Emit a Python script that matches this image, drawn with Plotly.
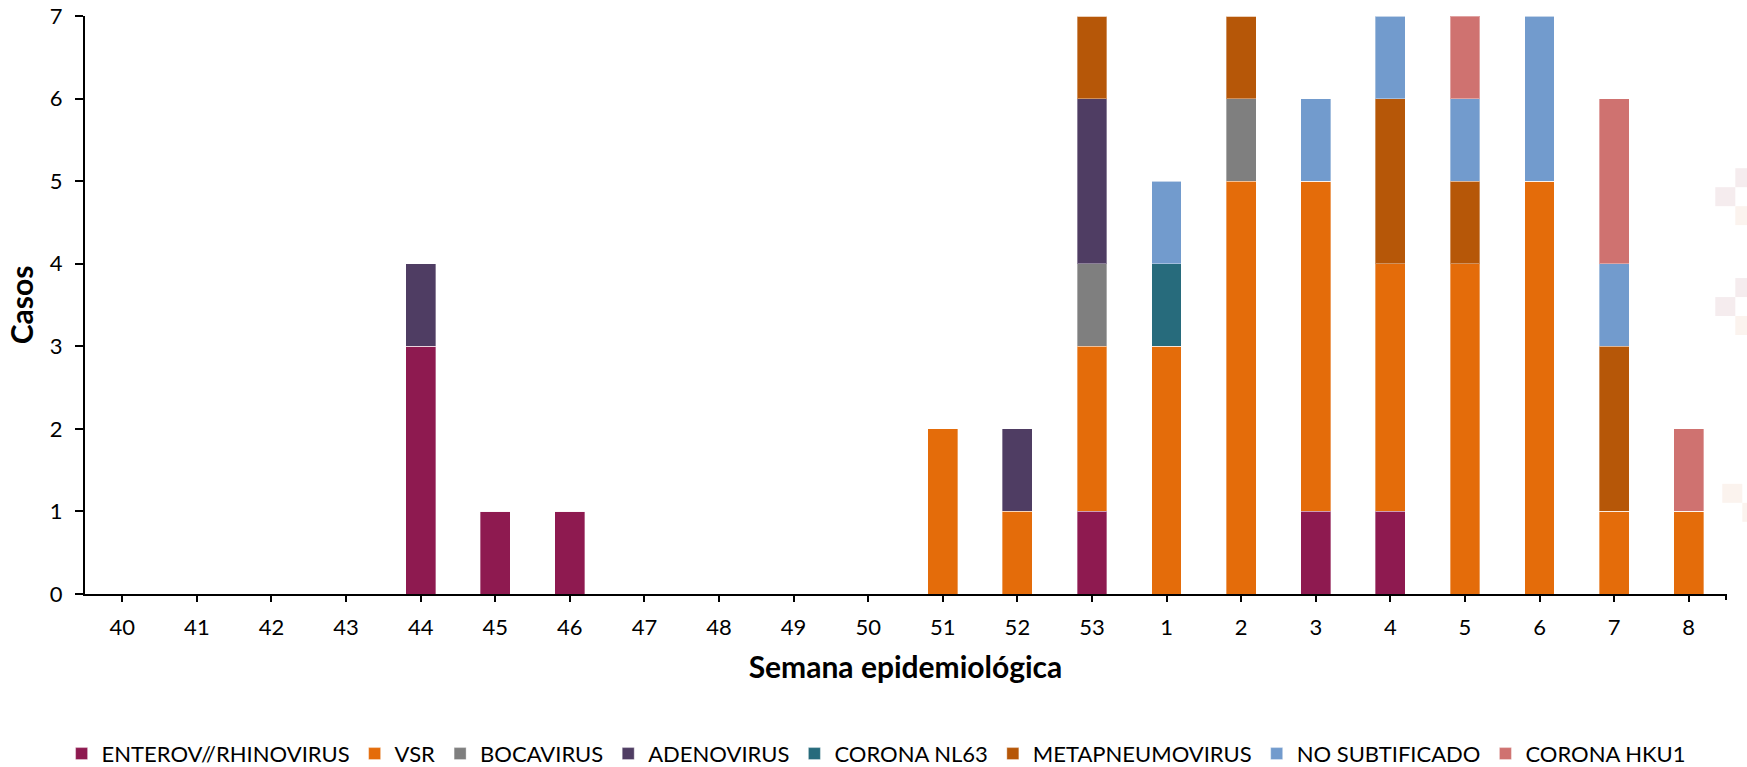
import plotly.graph_objects as go

W, H = 1747, 767

semanas = ["40", "41", "42", "43", "44", "45", "46", "47", "48", "49", "50", "51", "52", "53",
           "1", "2", "3", "4", "5", "6", "7", "8"]

enterov = [0, 0, 0, 0, 3, 1, 1, 0, 0, 0, 0, 0, 0, 1, 0, 0, 1, 1, 0, 0, 0, 0]
vsr = [0, 0, 0, 0, 0, 0, 0, 0, 0, 0, 0, 2, 1, 2, 3, 5, 4, 3, 4, 5, 1, 1]
bocavirus = [0, 0, 0, 0, 0, 0, 0, 0, 0, 0, 0, 0, 0, 1, 0, 1, 0, 0, 0, 0, 0, 0]
adenovirus = [0, 0, 0, 0, 1, 0, 0, 0, 0, 0, 0, 0, 1, 2, 0, 0, 0, 0, 0, 0, 0, 0]
corona_nl63 = [0, 0, 0, 0, 0, 0, 0, 0, 0, 0, 0, 0, 0, 0, 1, 0, 0, 0, 0, 0, 0, 0]
metapneumo = [0, 0, 0, 0, 0, 0, 0, 0, 0, 0, 0, 0, 0, 1, 0, 1, 0, 2, 1, 0, 2, 0]
no_subtificado = [0, 0, 0, 0, 0, 0, 0, 0, 0, 0, 0, 0, 0, 0, 1, 0, 1, 1, 1, 2, 1, 0]
corona_hku1 = [0, 0, 0, 0, 0, 0, 0, 0, 0, 0, 0, 0, 0, 0, 0, 0, 0, 0, 1, 0, 2, 1]

series_names = ["ENTEROV//RHINOVIRUS", "VSR", "BOCAVIRUS", "ADENOVIRUS", "CORONA NL63",
                "METAPNEUMOVIRUS", "NO SUBTIFICADO", "CORONA HKU1"]
series_values = [enterov, vsr, bocavirus, adenovirus, corona_nl63, metapneumo,
                 no_subtificado, corona_hku1]
series_colors = ["#8E1A50", "#E46C0A", "#7F7F7F", "#4F3D63", "#276B7C", "#B65708",
                 "#729BCD", "#CF7270"]

y_ticks = [0, 1, 2, 3, 4, 5, 6, 7]

FONT = "Lato"

fig = go.Figure()
for name, vals, col in zip(series_names, series_values, series_colors):
    fig.add_trace(go.Bar(
        x=semanas, y=vals, name=name,
        marker=dict(color=col, line=dict(color="rgba(255,255,255,0.35)", width=1)),
    ))

# plot area in pixels
L, R, T, B = 85.4, 1725.7, 15.6, 594.3
plot_w = R - L
plot_h = B - T

# faint decorative squares at right edge (background artwork)
deco = [
    (1735, 168, 1747, 187, "#F5ECEE"), (1715, 187, 1735, 206, "#F5ECEE"), (1735, 206, 1747, 225, "#FBF3EE"),
    (1735, 278, 1747, 297, "#F5ECEE"), (1715, 297, 1735, 316, "#F5ECEE"), (1735, 316, 1747, 335, "#FBF3EE"),
    (1722, 484, 1742, 503, "#FBF3EE"), (1742, 503, 1747, 522, "#FBF3EE"),
]
shapes = []
for x0, y0, x1, y1, c in deco:
    shapes.append(dict(type="rect", xref="paper", yref="paper", layer="below",
                       x0=(x0 - L) / plot_w, x1=(x1 - L) / plot_w,
                       y0=(B - y1) / plot_h, y1=(B - y0) / plot_h,
                       fillcolor=c, line=dict(width=0)))
# closing tick mark at right end of category axis
shapes.append(dict(type="line", xref="paper", yref="paper", x0=1, x1=1,
                   y0=0, y1=-6 / plot_h, line=dict(color="black", width=2)))

fig.update_layout(
    width=W, height=H,
    barmode="stack", bargap=0.6,
    plot_bgcolor="white", paper_bgcolor="white",
    margin=dict(l=L, r=W - R, t=T, b=H - B, autoexpand=False),
    font=dict(family=FONT, color="black", size=22),
    showlegend=True,
    legend=dict(orientation="h", x=(62 - L) / plot_w, xanchor="left",
                y=(B - 754.3) / plot_h, yanchor="middle",
                font=dict(family=FONT, size=22, color="black"),
                traceorder="normal", itemwidth=30, tracegroupgap=0),
    xaxis=dict(type="category", categoryorder="array", categoryarray=semanas,
               showline=True, linecolor="black", linewidth=2,
               ticks="outside", ticklen=6, tickwidth=2, tickcolor="black",
               ticklabelstandoff=7,
               tickfont=dict(family=FONT, size=22, color="black"),
               showgrid=False, zeroline=False,
               title=dict(text="<b>Semana epidemiológica</b>", standoff=18,
                          font=dict(family=FONT, size=30, color="black"))),
    yaxis=dict(range=[0, 7], tickvals=y_ticks, ticktext=[str(v) for v in y_ticks],
               showline=True, linecolor="black", linewidth=2,
               ticks="outside", ticklen=8, tickwidth=2, tickcolor="black",
               ticklabelstandoff=8,
               tickfont=dict(family=FONT, size=22, color="black"),
               showgrid=False, zeroline=False,
               title=dict(text="<b>Casos</b>", standoff=7,
                          font=dict(family=FONT, size=30, color="black"))),
    shapes=shapes,
)

fig.write_html("out.html", config={"displayModeBar": False},
               post_script="document.body.style.margin='0';document.body.style.overflow='hidden';")
